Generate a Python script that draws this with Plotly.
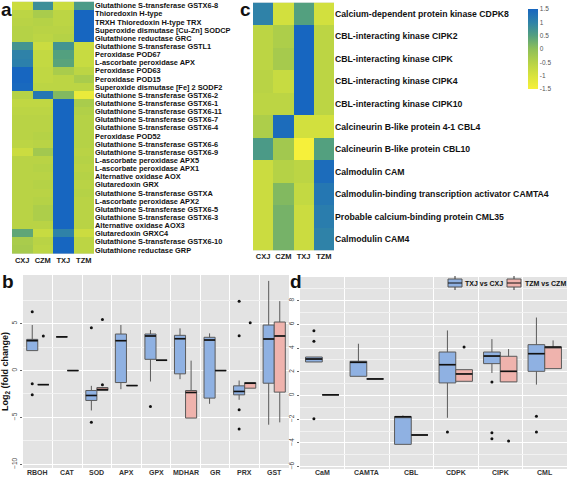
import plotly.graph_objects as go

W, H = 567, 477

# ---------------- data ----------------
heat_cols = ["CXJ", "CZM", "TXJ", "TZM"]

a_labels = [
    "Glutathione S-transferase GSTX6-8",
    "Thioredoxin H-type",
    "TRXH Thioredoxin H-type TRX",
    "Superoxide dismutase [Cu-Zn] SODCP",
    "Glutathione reductase GRC",
    "Glutathione S-transferase GSTL1",
    "Peroxidase POD67",
    "L-ascorbate peroxidase APX",
    "Peroxidase POD63",
    "Peroxidase POD15",
    "Superoxide dismutase [Fe] 2 SODF2",
    "Glutathione S-transferase GSTX6-2",
    "Glutathione S-transferase GSTX6-1",
    "Glutathione S-transferase GSTX6-11",
    "Glutathione S-transferase GSTX6-7",
    "Glutathione S-transferase GSTX6-4",
    "Peroxidase POD52",
    "Glutathione S-transferase GSTX6-6",
    "Glutathione S-transferase GSTX6-9",
    "L-ascorbate peroxidase APX5",
    "L-ascorbate peroxidase APX1",
    "Alternative oxidase AOX",
    "Glutaredoxin GRX",
    "Glutathione S-transferase GSTXA",
    "L-ascorbate peroxidase APX2",
    "Glutathione S-transferase GSTX6-5",
    "Glutathione S-transferase GSTX6-3",
    "Alternative oxidase AOX3",
    "Glutaredoxin GRXC4",
    "Glutathione S-transferase GSTX6-10",
    "Glutathione reductase GRP",
]
a_values = [
    [-0.8, 0.8, -0.8, 0.6],
    [-0.6, -0.35, -0.6, 1.5],
    [-0.55, -0.5, -0.6, 1.5],
    [-0.5, -0.55, -0.55, 1.5],
    [-0.5, -0.6, -0.5, 1.5],
    [0.7, -0.8, 0.7, -0.8],
    [1.0, -0.7, 0.5, -0.75],
    [1.05, -0.7, 0.45, -0.75],
    [1.5, -0.65, -0.35, -0.6],
    [1.5, -0.65, -0.6, -0.35],
    [1.45, -0.6, -0.6, -0.6],
    [-0.5, 1.2, 0.1, -1.3],
    [-0.65, -0.65, 1.5, -0.35],
    [-0.6, -0.6, 1.5, -0.45],
    [-0.55, -0.55, 1.5, -0.5],
    [-0.55, -0.55, 1.5, -0.5],
    [-0.55, -0.5, 1.5, -0.5],
    [-0.6, -0.55, 1.5, -0.5],
    [-0.8, -0.25, 1.5, -0.55],
    [-0.55, -0.55, 1.5, -0.5],
    [-0.55, -0.5, 1.5, -0.55],
    [-0.55, -0.55, 1.5, -0.5],
    [-0.55, -0.5, 1.5, -0.55],
    [-0.55, -0.55, 1.5, -0.5],
    [-0.55, -0.5, 1.5, -0.55],
    [-0.55, -0.4, 1.5, -0.55],
    [-0.55, -0.4, 1.5, -0.55],
    [-0.55, -0.55, 1.5, -0.55],
    [0.4, -0.75, 1.0, -0.8],
    [-0.35, -0.55, 1.5, -0.6],
    [-0.3, -0.6, 1.5, -0.6],
]

c_labels = [
    "Calcium-dependent protein kinase CDPK8",
    "CBL-interacting kinase CIPK2",
    "CBL-interacting kinase CIPK",
    "CBL-interacting kinase CIPK4",
    "CBL-interacting kinase CIPK10",
    "Calcineurin B-like protein 4-1 CBL4",
    "Calcineurin B-like protein CBL10",
    "Calmodulin CAM",
    "Calmodulin-binding transcription activator CAMTA4",
    "Probable calcium-binding protein CML35",
    "Calmodulin CAM4",
]
c_values = [
    [1.0, -0.9, 0.5, -0.9],
    [-0.6, -0.4, 1.5, -0.6],
    [-0.6, -0.3, 1.5, -0.6],
    [-0.55, -0.75, 1.5, -0.6],
    [-0.6, -0.6, 1.5, -0.6],
    [-0.4, 1.4, -0.9, -0.9],
    [0.6, -0.25, -1.5, 0.5],
    [-0.8, -0.5, -0.6, 1.4],
    [-0.8, 0.1, -0.7, 1.2],
    [-0.8, 0.2, -0.8, 1.1],
    [-0.8, 0.2, -0.8, 1.0],
]
cbar_ticks = [-1.5, -1, -0.5, 0, 0.5, 1, 1.5]
cbar_text = ["-1.5", "-1", "-0.5", "0", "0.5", "1", "1.5"]

# panel b box statistics
b_cats = ["RBOH", "CAT", "SOD", "APX", "GPX", "MDHAR", "GR", "PRX", "GST"]
b_txj_q1 = [2.13, 3.6, -3.19, -1.28, 1.2, -0.35, -2.94, -2.59, -1.35]
b_txj_med = [3.19, 3.6, -2.66, 3.19, 3.69, 3.4, 3.26, -2.23, 3.37]
b_txj_q3 = [3.33, 3.6, -2.13, 3.9, 3.9, 3.76, 3.55, -1.63, 4.86]
b_txj_lo = [2.13, 3.6, -4.26, -1.99, -1.17, -0.92, -3.55, -3.12, -5.78]
b_txj_hi = [4.86, 3.6, -1.63, 4.86, 4.33, 4.5, 3.97, -1.06, 9.57]
b_txj_out = [[6.28, -1.42, -2.59], [], [4.57, -5.53], [], [-3.83], [], [],
             [7.41, 3.72, -4.18, -6.24], []]
b_tzm_q1 = [-1.5, 0.0, -2.13, -1.6, 1.1, -5.07, 0.0, -1.88, -2.3]
b_tzm_med = [-1.5, 0.0, -2.02, -1.6, 1.1, -2.34, 0.0, -1.35, 3.69]
b_tzm_q3 = [-1.5, 0.0, -1.81, -1.6, 1.1, -2.13, 0.0, -1.28, 5.18]
b_tzm_lo = [-1.5, 0.0, -2.13, -1.6, 1.1, -5.07, 0.0, -1.88, -5.53]
b_tzm_hi = [-1.5, 0.0, -1.81, -1.6, 1.1, 1.06, 0.0, -1.28, 7.41]
b_tzm_out = [[3.7], [], [5.46, -1.52], [], [], [], [], [5.1], []]

# panel d box statistics
d_cats = ["CaM", "CAMTA", "CBL", "CDPK", "CIPK", "CML"]
d_txj_q1 = [2.83, 1.62, -4.12, 1.06, 2.69, 2.04]
d_txj_med = [3.08, 2.8, -1.79, 2.6, 3.33, 3.53]
d_txj_q3 = [3.25, 2.89, -1.79, 3.67, 3.67, 4.29]
d_txj_lo = [2.83, 1.62, -4.12, -1.88, 1.9, 0.92]
d_txj_hi = [3.25, 4.37, -1.68, 5.49, 4.76, 6.58]
d_txj_out = [[5.46, 4.57, -1.96], [], [], [-3.08], [1.15, -3.14, -3.64], [-1.74, -3.08]]
d_tzm_q1 = [0.06, 1.4, -3.33, 1.2, 1.15, 2.27]
d_tzm_med = [0.06, 1.4, -3.33, 1.82, 2.04, 4.09]
d_tzm_q3 = [0.06, 1.4, -3.33, 2.18, 3.31, 4.09]
d_tzm_lo = [0.06, 1.4, -3.33, 1.2, 1.15, 2.27]
d_tzm_hi = [0.06, 1.4, -3.33, 2.18, 3.92, 4.65]
d_tzm_out = [[], [], [], [4.09], [-3.84], []]

series_names = ["TXJ vs CXJ", "TZM vs CZM"]

# ---------------- styling ----------------
FONT = "Liberation Sans, Arial, sans-serif"
BLUE = "#8fb1e2"
PINK = "#efb3ad"
BOXLINE = "#5a5a5a"
PANEL_BG = "#e3e3e3"
colorscale = [
    [0.0, "#f6f03a"],
    [0.17, "#d8e33c"],
    [0.33, "#b6d246"],
    [0.5, "#8ebf58"],
    [0.67, "#529f80"],
    [0.83, "#2f83a8"],
    [1.0, "#1766c0"],
]


def px_dom_x(x0, x1):
    return [x0 / W, x1 / W]


def px_dom_y(y0, y1):
    return [1 - y1 / H, 1 - y0 / H]


fig = go.Figure()

# heatmaps
fig.add_trace(go.Heatmap(z=a_values, x=heat_cols, y=a_labels, coloraxis="coloraxis",
                         xaxis="x", yaxis="y", hoverinfo="skip"))
fig.add_trace(go.Heatmap(z=c_values, x=heat_cols, y=c_labels, coloraxis="coloraxis",
                         xaxis="x2", yaxis="y2", hoverinfo="skip"))

DODGE = 0.1875
BW = 0.375


def add_boxes(cats, stats, outs, xa, ya):
    n = len(cats)
    for si, (st, out, fill) in enumerate(zip(stats, outs, [BLUE, PINK])):
        off = -DODGE if si == 0 else DODGE
        pos = [i + off for i in range(n)]
        q1, med, q3, lo, hi = st
        fig.add_trace(go.Box(
            x=pos, q1=q1, median=med, q3=q3, lowerfence=lo, upperfence=hi,
            width=BW, fillcolor=fill, line=dict(color=BOXLINE, width=1),
            whiskerwidth=0, boxpoints=False, name=series_names[si], showlegend=False,
            xaxis=xa, yaxis=ya, hoverinfo="skip"))
        # median emphasis
        mx, my = [], []
        for p, m in zip(pos, med):
            mx += [p - BW / 2, p + BW / 2, None]
            my += [m, m, None]
        fig.add_trace(go.Scatter(x=mx, y=my, mode="lines",
                                 line=dict(color="#111111", width=1.6),
                                 showlegend=False, xaxis=xa, yaxis=ya, hoverinfo="skip"))
        ox, oy = [], []
        for i, vals in enumerate(out):
            for v in vals:
                ox.append(i + off)
                oy.append(v)
        fig.add_trace(go.Scatter(x=ox, y=oy, mode="markers",
                                 marker=dict(color="#111111", size=3),
                                 showlegend=False, xaxis=xa, yaxis=ya, hoverinfo="skip"))
    # category labels just under the panel
    for i, c in enumerate(cats):
        fig.add_annotation(text=f"<b>{c}</b>", x=i, xref=xa, y=1 - 472 / H, yref="paper",
                           xanchor="center", yanchor="middle", showarrow=False,
                           font=dict(family=FONT, size=7, color="#333"))


add_boxes(b_cats,
          [(b_txj_q1, b_txj_med, b_txj_q3, b_txj_lo, b_txj_hi),
           (b_tzm_q1, b_tzm_med, b_tzm_q3, b_tzm_lo, b_tzm_hi)],
          [b_txj_out, b_tzm_out], "x3", "y3")
add_boxes(d_cats,
          [(d_txj_q1, d_txj_med, d_txj_q3, d_txj_lo, d_txj_hi),
           (d_tzm_q1, d_tzm_med, d_tzm_q3, d_tzm_lo, d_tzm_hi)],
          [d_txj_out, d_tzm_out], "x4", "y4")

heat_x_font = dict(family=FONT, size=7.5, color="#222", weight="bold")

layout = dict(
    width=W, height=H, margin=dict(l=0, r=0, t=0, b=0),
    paper_bgcolor="white", plot_bgcolor=PANEL_BG,
    font=dict(family=FONT, color="#222"),
    showlegend=False,
    coloraxis=dict(
        colorscale=colorscale, cmin=-1.5, cmax=1.5,
        colorbar=dict(x=528 / W, xanchor="left", y=1 - 9 / H, yanchor="top",
                      len=80, lenmode="pixels", thickness=10, outlinewidth=0,
                      tickvals=cbar_ticks, ticktext=cbar_text, ticks="",
                      tickfont=dict(family=FONT, size=6.5, color="#555"),
                      ypad=0, xpad=0)),
    xaxis=dict(domain=px_dom_x(12, 94), anchor="y", showgrid=False, zeroline=False,
               tickfont=heat_x_font, ticks="", showline=False),
    yaxis=dict(domain=px_dom_y(1.6, 254), anchor="x", side="right", autorange="reversed",
               showgrid=False, zeroline=False, ticks="",
               tickmode="array", tickvals=a_labels, ticktext=a_labels,
               tickfont=dict(family=FONT, size=7.4, color="#111", weight="bold")),
    xaxis2=dict(domain=px_dom_x(253, 334), anchor="y2", showgrid=False, zeroline=False,
                tickfont=heat_x_font, ticks=""),
    yaxis2=dict(domain=px_dom_y(2.5, 250.5), anchor="x2", side="right", autorange="reversed",
                showgrid=False, zeroline=False, ticks="",
                tickmode="array", tickvals=c_labels, ticktext=c_labels,
                tickfont=dict(family=FONT, size=8.7, color="#111", weight="bold")),
    xaxis3=dict(domain=px_dom_x(23, 289), anchor="y3", range=[-0.5, len(b_cats) - 0.5],
                tickvals=list(range(len(b_cats))), showticklabels=False, showgrid=False,
                zeroline=False, ticks="",
                minor=dict(tickmode="linear", tick0=0.5, dtick=1, showgrid=True,
                           gridcolor="white", gridwidth=1.2, ticks="")),
    yaxis3=dict(domain=px_dom_y(275, 468), anchor="x3", range=[-10.4, 10.2],
                tickvals=[-10, -5, 0, 5], tickangle=-90, zeroline=False,
                gridcolor="white", gridwidth=1.2, ticks="outside", ticklen=2,
                tickcolor="#666", tickfont=dict(family=FONT, size=6.5, color="#444"),
                minor=dict(tickvals=[-7.5, -2.5, 2.5, 7.5], showgrid=True,
                           gridcolor="#f2f2f2", gridwidth=0.5),
                title=dict(text="Log<sub>2</sub> (fold change)", standoff=2,
                           font=dict(family=FONT, size=9, color="#111", weight="bold"))),
    xaxis4=dict(domain=px_dom_x(300, 567), anchor="y4", range=[-0.5, len(d_cats) - 0.5],
                tickvals=list(range(len(d_cats))), showticklabels=False, showgrid=False,
                zeroline=False, ticks="",
                minor=dict(tickmode="linear", tick0=0.5, dtick=1, showgrid=True,
                           gridcolor="white", gridwidth=1.2, ticks="")),
    yaxis4=dict(domain=px_dom_y(277, 469), anchor="x4", range=[-6.2, 10.0],
                tickvals=[-6, -4, -2, 0, 2, 4, 6, 8], tickangle=-90, zeroline=False,
                gridcolor="white", gridwidth=1.2, ticks="outside", ticklen=2,
                tickcolor="#666", tickfont=dict(family=FONT, size=6.5, color="#444"),
                minor=dict(tickvals=[-5, -3, -1, 1, 3, 5, 7, 9], showgrid=True,
                           gridcolor="#f2f2f2", gridwidth=0.5)),
)
fig.update_layout(**layout)

# manual legend for panel d (box-style keys)
leg_y = 283
leg_items = [(448, 463, BLUE, series_names[0]), (507, 523, PINK, series_names[1])]
for x0, tx, col, name in leg_items:
    cx = x0 + 7
    fig.add_shape(type="line", xref="paper", yref="paper",
                  x0=cx / W, x1=cx / W, y0=1 - (leg_y - 7) / H, y1=1 - (leg_y + 7) / H,
                  line=dict(color="#333", width=1))
    fig.add_shape(type="rect", xref="paper", yref="paper",
                  x0=x0 / W, x1=(x0 + 14) / W, y0=1 - (leg_y - 4) / H, y1=1 - (leg_y + 4) / H,
                  fillcolor=col, line=dict(color="#555", width=1))
    fig.add_shape(type="line", xref="paper", yref="paper",
                  x0=x0 / W, x1=(x0 + 14) / W, y0=1 - leg_y / H, y1=1 - leg_y / H,
                  line=dict(color="#111", width=1))
    fig.add_annotation(text=f"<b>{name}</b>", x=tx / W, y=1 - leg_y / H,
                       xref="paper", yref="paper", xanchor="left", yanchor="middle",
                       showarrow=False, font=dict(family=FONT, size=7, color="#111"))

for letter, x, y in [("a", -1, -3), ("b", 0, 269), ("c", 238, -3), ("d", 288, 269)]:
    fig.add_annotation(text=f"<b>{letter}</b>", x=x / W, y=1 - y / H, xref="paper", yref="paper",
                       xanchor="left", yanchor="top", showarrow=False,
                       font=dict(family=FONT, size=19, color="#111"))

fig.write_html("out.html", config={"displayModeBar": False},
               post_script="document.body.style.margin='0';")
